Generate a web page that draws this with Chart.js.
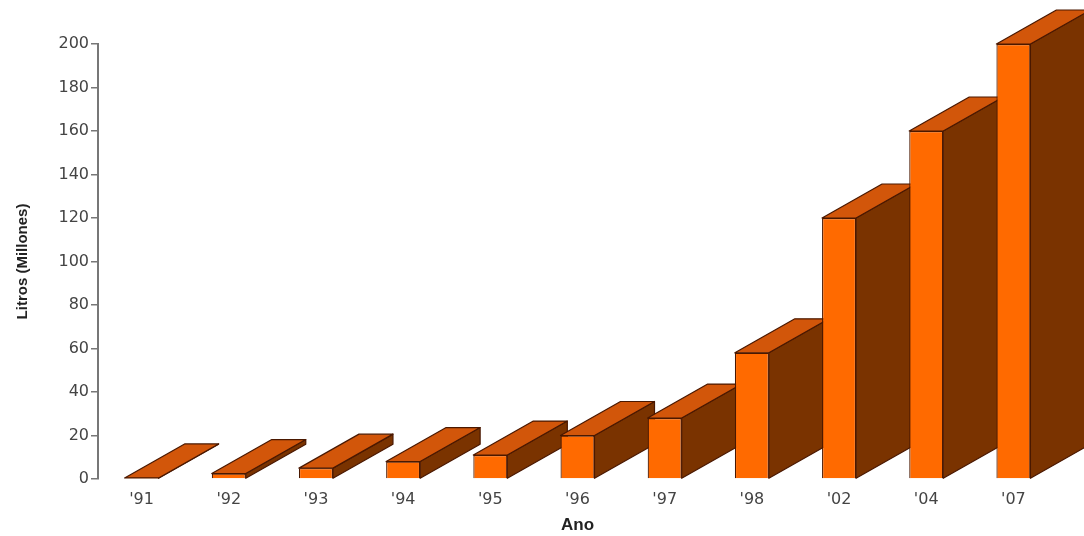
<!DOCTYPE html>
<html>
<head>
<meta charset="utf-8">
<script src="https://cdn.jsdelivr.net/npm/chart.js@4/dist/chart.umd.min.js"></script>
<style>
html,body{margin:0;padding:0;background:#fff;}
#wrap{width:1084px;height:536px;}
</style>
</head>
<body>
<div id="wrap"><canvas id="c" width="1084" height="536"></canvas></div>
<script>
const categories = ["'91", "'92", "'93", "'94", "'95", "'96", "'97", "'98", "'02", "'04", "'07"];
const litros = [0.5, 2.5, 5, 8, 11, 20, 28, 58, 120, 160, 200];
const yTicks = [0, 20, 40, 60, 80, 100, 120, 140, 160, 180, 200];

const FRONT = '#FF6A00';
const TOP = '#D2560A';
const SIDE = '#7A3300';
const EDGE = '#4A1800';
const DX = 60, DY = -34;

const bar3d = {
  id: 'bar3d',
  beforeDatasetsDraw(chart) {
    const ctx = chart.ctx;
    const meta = chart.getDatasetMeta(0);
    ctx.save();
    ctx.lineWidth = 1.2;
    ctx.strokeStyle = EDGE;
    ctx.lineJoin = 'round';
    meta.data.forEach(el => {
      const p = el.getProps(['x', 'y', 'base', 'width'], true);
      const l = p.x - p.width / 2, r = p.x + p.width / 2;
      ctx.beginPath();
      ctx.moveTo(r, p.y); ctx.lineTo(r + DX, p.y + DY);
      ctx.lineTo(r + DX, p.base + DY); ctx.lineTo(r, p.base);
      ctx.closePath();
      ctx.fillStyle = SIDE; ctx.fill(); ctx.stroke();
      ctx.beginPath();
      ctx.moveTo(l, p.y); ctx.lineTo(r, p.y);
      ctx.lineTo(r + DX, p.y + DY); ctx.lineTo(l + DX, p.y + DY);
      ctx.closePath();
      ctx.fillStyle = TOP; ctx.fill(); ctx.stroke();
    });
    ctx.restore();
  }
};

new Chart(document.getElementById('c'), {
  type: 'bar',
  data: {
    labels: categories,
    datasets: [{
      data: litros,
      backgroundColor: FRONT,
      borderColor: EDGE,
      borderWidth: 1.2,
      barPercentage: 0.39,
      categoryPercentage: 1.0,
      clip: false
    }]
  },
  options: {
    responsive: false,
    animation: false,
    events: [],
    layout: { padding: { top: 44, right: 27, left: 10, bottom: 0 } },
    plugins: { legend: { display: false }, tooltip: { enabled: false } },
    scales: {
      x: {
        grid: { display: false },
        border: { display: false },
        ticks: { color: '#444', font: { family: 'DejaVu Sans', size: 16 }, padding: 3, maxRotation: 0 },
        title: { display: true, text: 'Ano', color: '#222', font: { family: 'Liberation Sans', size: 17, weight: 'bold' }, padding: { top: 0, bottom: 0 } },
        afterFit(s) { s.height = 57; }
      },
      y: {
        min: 0, max: 200,
        afterBuildTicks(s) { s.ticks = yTicks.map(v => ({ value: v })); },
        grid: { display: true, drawOnChartArea: false, drawTicks: true, tickLength: 7, color: '#777', lineWidth: 1.5 },
        border: { display: true, color: '#777', width: 2 },
        ticks: { color: '#444', font: { family: 'DejaVu Sans', size: 16 }, padding: 2 },
        title: { display: true, text: 'Litros (Millones)', color: '#222', font: { family: 'Liberation Sans', size: 15, weight: 'bold' }, padding: { bottom: 4 } },
        afterFit(s) { s.width = 88; }
      }
    }
  },
  plugins: [bar3d]
});
</script>
</body>
</html>
